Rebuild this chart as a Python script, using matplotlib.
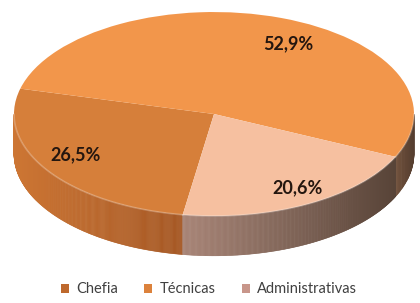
import numpy as np
import matplotlib.pyplot as plt
from matplotlib.patches import Polygon, Patch

plt.rcParams['font.family'] = ['Lato', 'DejaVu Sans']

categorias = ['Chefia', 'Técnicas', 'Administrativas']
valores = [26.5, 52.9, 20.6]

cores_topo = ['#D67F3A', '#F2964B', '#F6C0A0']
# cor da parede lateral (esquerda, direita) de cada fatia
cores_lado = [((205, 118, 52), (166, 88, 36)),
              ((112, 80, 58), (86, 62, 48)),
              ((168, 132, 118), (88, 68, 56))]
cores_legenda = ['#BE692D', '#DC823C', '#C8968A']

prof = 0.39  # altura da parede, em unidades do raio vertical

fig = plt.figure(figsize=(4.2, 3.03), dpi=100)
ax = fig.add_axes([0, 0, 1, 1])

wedges, texts, autotexts = ax.pie(
    valores, colors=cores_topo, startangle=261, counterclock=False,
    autopct=lambda p: f'{p:.1f}%'.replace('.', ','), pctdistance=0.8,
    wedgeprops=dict(linewidth=0, zorder=3),
    textprops=dict(fontsize=13, fontweight='bold', color='#24160F', zorder=6))

# ajuste fino dos rótulos (perspectiva)
ajuste_ang = [-3, -9, 2]
ajuste_r = [0.8, 0.78, 0.83]
for w, txt, da, r in zip(wedges, autotexts, ajuste_ang, ajuste_r):
    ang = np.radians((w.theta1 + w.theta2) / 2 + da)
    txt.set_position((r * np.cos(ang), r * np.sin(ang)))

# paredes laterais do "3D"
for w, (c_esq, c_dir) in zip(wedges, cores_lado):
    t = np.linspace(w.theta1, w.theta2, 300)
    vis = (np.mod((t[:-1] + t[1:]) / 2, 360) >= 180)
    if not vis.any():
        continue
    xs = np.cos(np.radians(t))
    xv = xs[:-1][vis]
    x0, x1 = xv.min(), xv.max()
    c_esq = np.array(c_esq) / 255
    c_dir = np.array(c_dir) / 255
    rad = np.radians(t)
    for k in np.where(vis)[0]:
        a, b = rad[k], rad[k + 1]
        xm = (np.cos(a) + np.cos(b)) / 2
        f = 0 if x1 == x0 else (xm - x0) / (x1 - x0)
        cor = c_esq + (c_dir - c_esq) * np.clip(f, 0, 1)
        pts = [(np.cos(a), np.sin(a)), (np.cos(b), np.sin(b)),
               (np.cos(b), np.sin(b) - prof), (np.cos(a), np.sin(a) - prof)]
        ax.add_patch(Polygon(pts, closed=True, facecolor=cor, edgecolor=cor,
                             linewidth=0.4, zorder=2))
    # realce na borda superior
    tt = np.radians(t[np.mod(t, 360) >= 180])
    if len(tt) > 1:
        ax.plot(np.cos(tt), np.sin(tt), color='white', alpha=0.25,
                linewidth=1.2, zorder=4)

ax.set_aspect('auto')
ax.set_xlim(-1.07, 1.03)
ax.set_ylim(-1.853, 1.118)
ax.axis('off')

handles = [Patch(facecolor=c, edgecolor='none') for c in cores_legenda]
fig.legend(handles, categorias, loc='center', bbox_to_anchor=(0.497, 0.045),
           ncol=3, frameon=False, fontsize=10.5, handlelength=0.55,
           handleheight=0.55, handletextpad=0.5, columnspacing=1.8,
           labelcolor='#404040')

fig.savefig('out.png', dpi=100)
